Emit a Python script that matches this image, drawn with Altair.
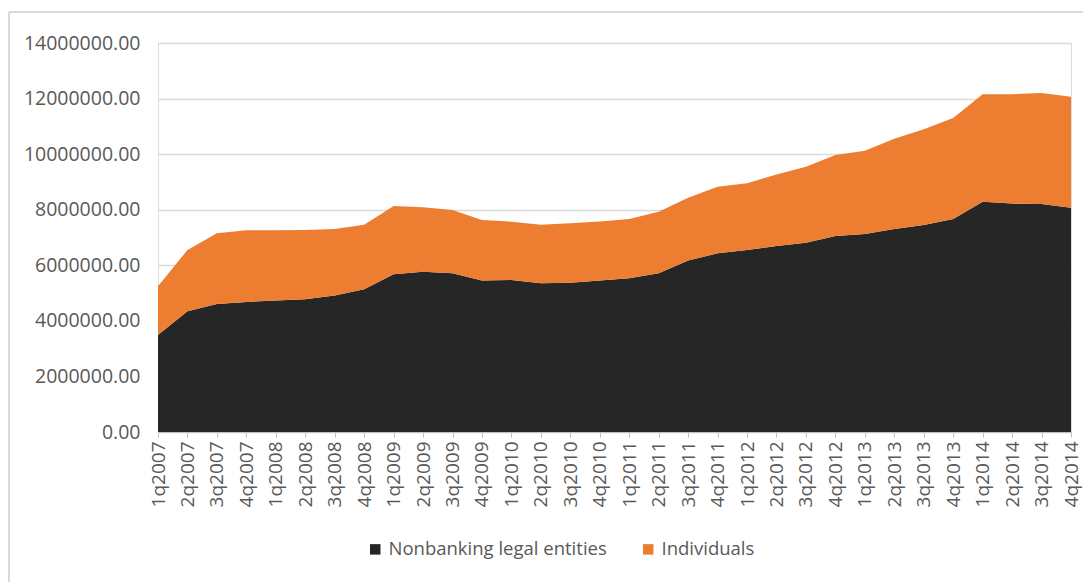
import altair as alt
import pandas as pd

quarters = [
    "1q2007", "2q2007", "3q2007", "4q2007",
    "1q2008", "2q2008", "3q2008", "4q2008",
    "1q2009", "2q2009", "3q2009", "4q2009",
    "1q2010", "2q2010", "3q2010", "4q2010",
    "1q2011", "2q2011", "3q2011", "4q2011",
    "1q2012", "2q2012", "3q2012", "4q2012",
    "1q2013", "2q2013", "3q2013", "4q2013",
    "1q2014", "2q2014", "3q2014", "4q2014",
]

nonbanking = [
    3490000, 4350000, 4610000, 4680000,
    4730000, 4780000, 4910000, 5140000,
    5680000, 5770000, 5710000, 5450000,
    5470000, 5350000, 5370000, 5450000,
    5530000, 5710000, 6170000, 6430000,
    6550000, 6690000, 6810000, 7050000,
    7130000, 7310000, 7450000, 7670000,
    8290000, 8220000, 8210000, 8070000,
]

individuals = [
    1760000, 2200000, 2540000, 2580000,
    2530000, 2490000, 2400000, 2320000,
    2450000, 2320000, 2280000, 2180000,
    2100000, 2110000, 2140000, 2130000,
    2140000, 2220000, 2260000, 2400000,
    2400000, 2580000, 2740000, 2920000,
    2990000, 3240000, 3450000, 3630000,
    3870000, 3940000, 3990000, 4000000,
]

series_names = ["Nonbanking legal entities", "Individuals"]
series_colors = ["#262626", "#ED7D31"]
y_ticks = [0, 2000000, 4000000, 6000000, 8000000, 10000000, 12000000, 14000000]

rows = []
for i, q in enumerate(quarters):
    rows.append({"quarter": q, "series": series_names[0], "value": nonbanking[i], "ord": 0})
    rows.append({"quarter": q, "series": series_names[1], "value": individuals[i], "ord": 1})
df = pd.DataFrame(rows)

FONT = "Open Sans"
GRAY = "#595959"
W, H = 913, 389
PAD_L, PAD_T = 150, 35

area = (
    alt.Chart(df)
    .mark_area(opacity=1)
    .encode(
        x=alt.X(
            "quarter:N",
            sort=quarters,
            title=None,
            scale=alt.Scale(type="point", padding=0),
            axis=alt.Axis(
                labelAngle=-90,
                labelFontSize=19,
                labelColor=GRAY,
                labelFont=FONT,
                labelPadding=4,
                tickSize=5,
                tickColor="#bfbfbf",
                domainColor="#bfbfbf",
                labelBaseline="middle",
                labelAlign="right",
            ),
        ),
        y=alt.Y(
            "value:Q",
            stack="zero",
            title=None,
            scale=alt.Scale(domain=[0, 14000000], nice=False),
            axis=alt.Axis(
                values=y_ticks,
                format=".2f",
                labelFontSize=19.5,
                labelColor=GRAY,
                labelFont=FONT,
                labelPadding=18,
                domain=False,
                ticks=False,
                gridColor="#d9d9d9",
                gridWidth=1.5,
            ),
        ),
        color=alt.Color(
            "series:N",
            scale=alt.Scale(domain=series_names, range=series_colors),
            legend=alt.Legend(
                title=None,
                orient="none",
                direction="horizontal",
                legendX=208,
                legendY=497,
                symbolType="square",
                symbolSize=110,
                symbolStrokeWidth=0,
                labelFontSize=18.5,
                labelColor=GRAY,
                labelFont=FONT,
                labelLimit=0,
                columnPadding=32,
                labelOffset=4,
            ),
        ),
        order=alt.Order("ord:Q", sort="ascending"),
    )
)

# light frame around the chart (left and top edges, as in the reference)
frame_df = pd.DataFrame({"k": [0]})
frame_left = alt.Chart(frame_df).mark_rule(color="#d9d9d9", strokeWidth=2).encode(
    x=alt.value(1 - PAD_L),
    y=alt.value(12 - 8 - PAD_T),
    y2=alt.value(H + 200),
)
frame_top = alt.Chart(frame_df).mark_rule(color="#d9d9d9", strokeWidth=2).encode(
    x=alt.value(1 - PAD_L),
    x2=alt.value(W + 40),
    y=alt.value(12 - 8 - PAD_T),
)

chart = (
    alt.layer(area, frame_left, frame_top)
    .properties(
        width=W,
        height=H,
        padding={"left": PAD_L, "top": PAD_T, "right": 12, "bottom": 150},
        autosize=alt.AutoSizeParams(type="none"),
    )
    .configure_view(stroke=None)
    .configure(background="white")
)

chart.save("out.html", embed_options={"renderer": "svg", "actions": False})
